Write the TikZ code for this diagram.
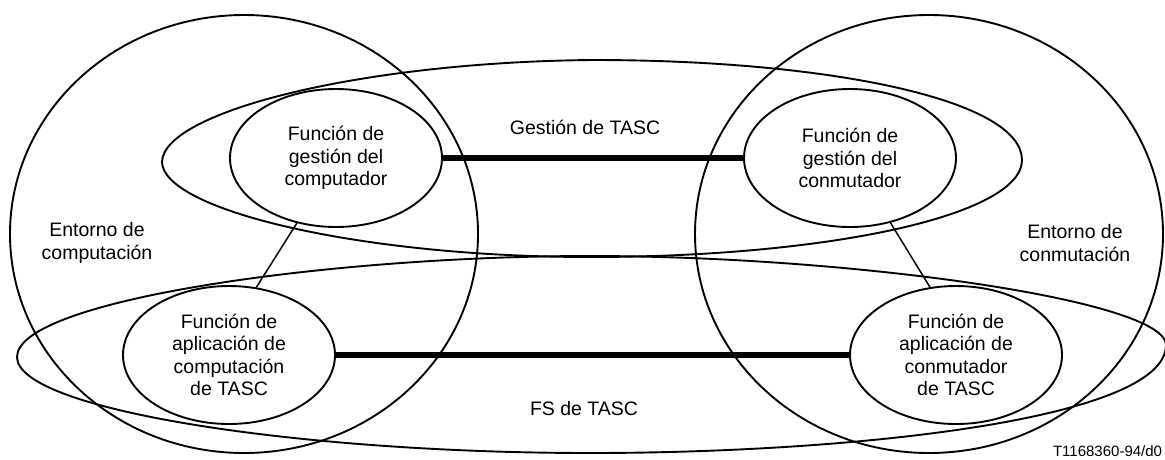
\documentclass[tikz,border=0pt]{standalone}
\usepackage{fontspec}
\setmainfont{Liberation Sans}
\usetikzlibrary{shapes.geometric}
\begin{document}
\begin{tikzpicture}[x=1pt,y=-1pt,
  line width=1.9pt,
  func/.style={draw, ellipse, minimum width=212pt, minimum height=138pt, inner sep=0pt, align=center, font=\fontsize{19.5}{22.5}\selectfont},
  envcircle/.style={draw, ellipse, minimum width=468pt, minimum height=438pt, inner sep=0pt},
  lbl/.style={align=center, font=\fontsize{19.5}{22.5}\selectfont, inner sep=0pt},
  mainlink/.style={line width=6pt},
  sublink/.style={line width=1.5pt}]
\useasboundingbox (0,0) rectangle (1165,459);
% environments
\node[envcircle] (lc) at (244,234) {};
\node[envcircle] (rc) at (929,234) {};
% management domain
\draw (162,162) .. controls (163,112) and (360,62) .. (593,60)
  .. controls (830,60) and (1022,100) .. (1022,160)
  .. controls (1022,215) and (830,257) .. (590,257)
  .. controls (360,257) and (163,210) .. (162,162);
% FS domain
\draw (17,357) .. controls (17,300) and (330,256) .. (590,256)
  .. controls (850,256) and (1166,300) .. (1166,345)
  .. controls (1166,420) and (850,453) .. (590,453)
  .. controls (300,453) and (17,410) .. (17,357);
% functions
\node[func] (tl) at (336,158) {Función de\\gestión del\\computador};
\node[func] (tr) at (850,158) {Función de\\gestión del\\conmutador};
\node[func] (bl) at (229,355) {Función de\\aplicación de\\computación\\de TASC};
\node[func] (br) at (956,355) {Función de\\aplicación de\\conmutador\\de TASC};
% links
\draw[mainlink] (tl.east) -- (tr.west);
\draw[mainlink] (bl.east) -- (br.west);
\draw[sublink] (tl.239) -- (bl.68);
\draw[sublink] (tr.302) -- (br.111);
% labels
\node[lbl] (gest) at (585,127) {Gestión de TASC};
\node[lbl] (fs) at (584,409) {FS de TASC};
\node[lbl] (envl) at (97,243) {Entorno de\\computación};
\node[lbl] (envr) at (1075,243) {Entorno de\\conmutación};
\node[font=\fontsize{15}{18}\selectfont, anchor=base east, inner sep=0pt] (code) at (1163,456) {T1168360-94/d0};
\end{tikzpicture}
\end{document}
